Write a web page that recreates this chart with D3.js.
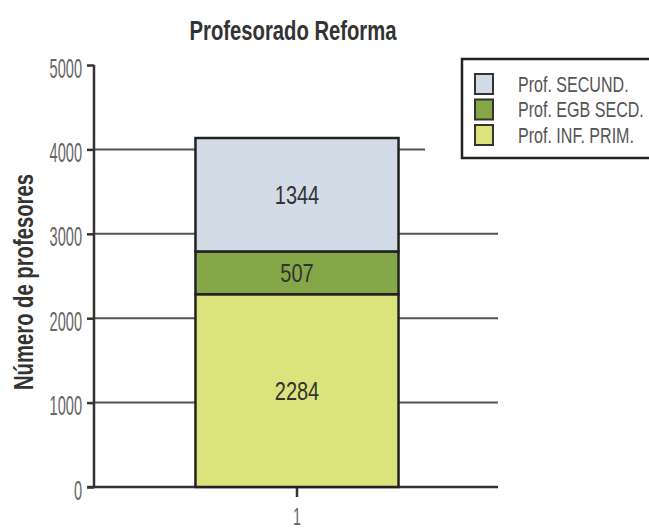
<!DOCTYPE html>
<html>
<head>
<meta charset="utf-8">
<script src="https://cdn.jsdelivr.net/npm/d3@7"></script>
<style>
  body { margin: 0; background: #fff; }
  svg { display: block; }
  text { font-family: "Liberation Sans", Arial, sans-serif; }
</style>
</head>
<body>
<svg id="chart"></svg>
<script>
// data
const categories = ["1"];
const seriesNames = ["Prof. INF. PRIM.", "Prof. EGB SECD.", "Prof. SECUND."];
const infPrim = [2284];
const egbSecd = [507];
const secund = [1344];
const yTicks = [0, 1000, 2000, 3000, 4000, 5000];
const colors = ["#dbe47c", "#86a748", "#d3dbe6"];

const W = 649, H = 530;
const margin = {left: 94, right: 151, top: 65, bottom: 43};

const svg = d3.select("#chart").attr("width", W).attr("height", H);

// squeeze text horizontally (condensed look) with a scale transform
function condense(sel, k) {
  sel.each(function() {
    const t = d3.select(this);
    const tx = +t.attr("x") || 0, ty = +t.attr("y") || 0;
    const prior = t.attr("transform") || "";
    t.attr("transform", `${prior} translate(${tx},${ty}) scale(${k},1)`)
      .attr("x", 0).attr("y", 0);
  });
}

// stacking
const rows = categories.map((c, i) => ({cat: c, 0: infPrim[i], 1: egbSecd[i], 2: secund[i]}));
const stack = d3.stack().keys([0, 1, 2])(rows);

const x = d3.scaleBand().domain(categories)
  .range([margin.left + 4, W - margin.right - 2]).paddingInner(0).paddingOuter(0.48);
const y = d3.scaleLinear().domain([0, 5000]).range([H - margin.bottom, margin.top]);

// gridlines (top one stops before legend)
svg.append("g").selectAll("line")
  .data(yTicks.filter(t => t > 0 && t < 5000))
  .join("line")
  .attr("x1", margin.left)
  .attr("x2", d => d === 4000 ? 425 : W - margin.right)
  .attr("y1", d => y(d)).attr("y2", d => y(d))
  .attr("stroke", "#555").attr("stroke-width", 2);

// y axis
svg.append("g")
  .attr("transform", `translate(${margin.left},0)`)
  .call(d3.axisLeft(y).tickValues(yTicks).tickSize(7).tickPadding(5).tickFormat(d3.format("d")))
  .call(g => g.select(".domain").attr("stroke", "#333").attr("stroke-width", 2.5).attr("d", `M0,${y(0)}V${y(5000)}`))
  .call(g => g.selectAll(".tick line").attr("stroke", "#333").attr("stroke-width", 2.5))
  .call(g => g.selectAll("text").attr("font-size", 27).attr("dy", "0.45em").attr("fill", "#666").call(condense, 0.54));

// x axis
svg.append("g")
  .attr("transform", `translate(0,${y(0)})`)
  .call(d3.axisBottom(x).tickSize(10).tickPadding(11))
  .call(g => g.select(".domain").attr("stroke", "#333").attr("stroke-width", 2.5)
    .attr("d", `M${margin.left - 7},0H${W - margin.right}`))
  .call(g => g.selectAll(".tick line").attr("stroke", "#333").attr("stroke-width", 2.5))
  .call(g => g.selectAll("text").attr("font-size", 24).attr("fill", "#666").call(condense, 0.6));

// bars
const layers = svg.append("g").selectAll("g").data(stack).join("g")
  .attr("fill", (d, i) => colors[i]);

layers.selectAll("rect").data(d => d).join("rect")
  .attr("x", d => x(d.data.cat))
  .attr("width", x.bandwidth())
  .attr("y", d => y(d[1]))
  .attr("height", d => y(d[0]) - y(d[1]))
  .attr("stroke", "#222").attr("stroke-width", 2.5);

layers.selectAll("text").data(d => d).join("text")
  .attr("x", d => x(d.data.cat) + x.bandwidth() / 2)
  .attr("y", d => (y(d[0]) + y(d[1])) / 2)
  .attr("dy", "0.36em")
  .attr("text-anchor", "middle")
  .attr("font-size", 25)
  .attr("fill", "#333")
  .text(d => d[1] - d[0])
  .call(condense, 0.8);

// title
svg.append("text")
  .attr("x", 293).attr("y", 40)
  .attr("text-anchor", "middle")
  .attr("font-size", 27).attr("font-weight", "bold").attr("fill", "#333")
  .text("Profesorado Reforma")
  .call(condense, 0.75);

// y title
svg.append("text")
  .attr("transform", `translate(33,${(y(0) + y(5000)) / 2 + 6}) rotate(-90)`)
  .attr("text-anchor", "middle")
  .attr("font-size", 27).attr("font-weight", "bold").attr("fill", "#333")
  .text("Número de profesores")
  .call(condense, 0.75);

// legend
const leg = svg.append("g").attr("transform", "translate(462,59)");
leg.append("rect").attr("x", 0).attr("y", 0).attr("width", 215).attr("height", 99)
  .attr("fill", "#fff").attr("stroke", "#222").attr("stroke-width", 2.5);
const order = [2, 1, 0];
const items = leg.selectAll("g.item").data(order).join("g")
  .attr("class", "item")
  .attr("transform", (d, i) => `translate(0,${25 + i * 25.5})`);
items.append("rect")
  .attr("x", 13).attr("y", -10).attr("width", 18).attr("height", 20)
  .attr("fill", d => colors[d]).attr("stroke", "#333").attr("stroke-width", 2);
items.append("text")
  .attr("x", 56).attr("y", 0).attr("dy", "0.36em")
  .attr("font-size", 22).attr("fill", "#555")
  .text(d => seriesNames[d])
  .call(condense, 0.73);
</script>
</body>
</html>
